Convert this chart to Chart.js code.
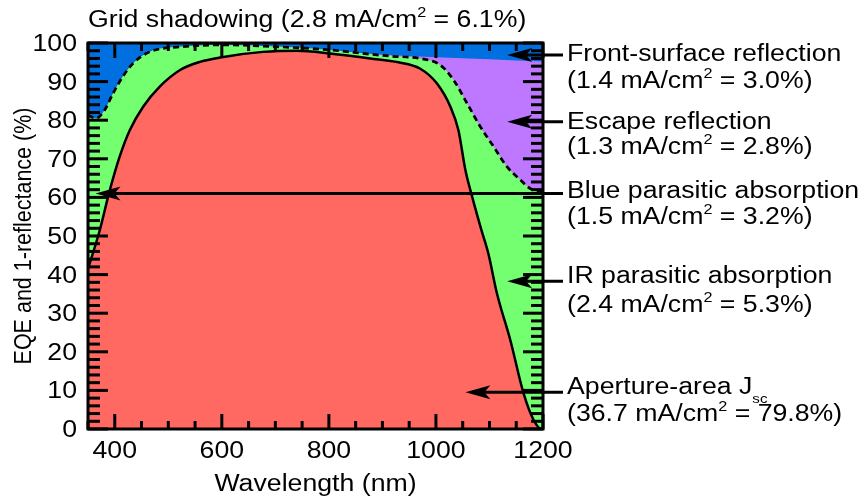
<!DOCTYPE html>
<html>
<head>
<meta charset="utf-8">
<script src="https://cdn.jsdelivr.net/npm/chart.js@4/dist/chart.umd.min.js"></script>
<style>
html, body { margin: 0; padding: 0; background: #fff; }
canvas { display: block; }
</style>
</head>
<body>
<canvas id="grafico" width="863" height="499"></canvas>
<script>
// EQE (linha cheia)
const eqeNm  = [350, 372, 390, 409, 428, 453, 484, 522, 559, 603, 677, 740, 802, 877, 930, 970, 1002, 1027, 1042, 1055, 1068, 1085, 1098, 1114, 1139, 1164, 1183, 1197, 1200];
const eqeVal = [41.5, 51.5, 61.5, 70.5, 77.4, 83.5, 88.7, 93.0, 95.1, 96.4, 97.7, 98.0, 97.3, 96.0, 95.0, 93.4, 89.5, 83.5, 77.4, 67.1, 60.0, 51.5, 45.4, 35.1, 23.0, 9.1, 2.2, 0, 0];

// 1 - reflectance (linha tracejada)
const refNm  = [350, 365, 381, 397, 415, 434, 465, 522, 603, 709, 802, 877, 915, 970, 1008, 1033, 1058, 1083, 1108, 1133, 1158, 1176, 1200];
const refVal = [81.3, 80.5, 82.6, 87.0, 91.3, 94.7, 97.7, 99.0, 99.5, 99.0, 98.2, 97.1, 96.6, 96.0, 94.3, 90.4, 84.4, 78.3, 73.1, 67.9, 64.5, 62.3, 61.3];

// 1 - reflexao frontal (limite azul / roxo)
const frontNm  = [350, 365, 381, 397, 415, 434, 465, 522, 603, 709, 802, 877, 1000, 1100, 1200];
const frontVal = [81.3, 80.5, 82.6, 87.0, 91.3, 94.7, 97.7, 99.0, 99.5, 99.0, 98.2, 97.2, 96.3, 95.8, 95.2];

const topoNm  = [350, 1200];
const topoVal = [100, 100];

const xTicks = [400, 600, 800, 1000, 1200];
const yTicks = [0, 10, 20, 30, 40, 50, 60, 70, 80, 90, 100];

// setas: altura (%) e ponta (nm)
const setaY  = [96.9, 79.6, 61.0, 38.3, 9.5];
const setaNm = [1133, 1133, 364, 1133, 1055];

// textos da direita: [linha, baseline]
const notas = [
    [[['Front-surface reflection', 0]], 61],
    [[['(1.4 mA/cm', 0], ['2', 1], [' = 3.0%)', 0]], 88],
    [[['Escape reflection', 0]], 129],
    [[['(1.3 mA/cm', 0], ['2', 1], [' = 2.8%)', 0]], 154],
    [[['Blue parasitic absorption', 0]], 198],
    [[['(1.5 mA/cm', 0], ['2', 1], [' = 3.2%)', 0]], 224],
    [[['IR parasitic absorption', 0]], 283],
    [[['(2.4 mA/cm', 0], ['2', 1], [' = 5.3%)', 0]], 312],
    [[['Aperture-area J', 0], ['sc', 2]], 394],
    [[['(36.7 mA/cm', 0], ['2', 1], [' = 79.8%)', 0]], 421]
];
const titulo = [['Grid shadowing (2.8 mA/cm', 0], ['2', 1], [' = 6.1%)', 0]];

function pares(xs, ys) {
    return xs.map((v, i) => ({ x: v, y: ys[i] }));
}

const SX = 1.16;
const FONTE = 'Liberation Sans, Arial, sans-serif';

function texto(ctx, partes, x, y, align) {
    let w = 0;
    const medidas = partes.map(p => {
        ctx.font = (p[1] == 0 ? 23 : (p[1] == 1 ? 14 : 13)) + 'px ' + FONTE;
        const m = ctx.measureText(p[0]).width;
        w += m;
        return m;
    });
    let x0 = x;
    if (align == 'right') x0 = x - w * SX;
    if (align == 'center') x0 = x - w * SX / 2;
    ctx.save();
    ctx.translate(x0, y);
    ctx.scale(SX, 1);
    ctx.fillStyle = '#000';
    ctx.textAlign = 'left';
    ctx.textBaseline = 'alphabetic';
    let cx = 0;
    partes.forEach((p, i) => {
        ctx.font = (p[1] == 0 ? 23 : (p[1] == 1 ? 14 : 13)) + 'px ' + FONTE;
        const dy = p[1] == 1 ? -10 : (p[1] == 2 ? 9 : 0);
        ctx.fillText(p[0], cx, dy);
        cx += medidas[i];
    });
    ctx.restore();
}

function linha(ctx, x1, y1, x2, y2) {
    ctx.beginPath();
    ctx.moveTo(x1, y1);
    ctx.lineTo(x2, y2);
    ctx.stroke();
}

const moldura = {
    id: 'moldura',
    afterDatasetsDraw(chart) {
        const ctx = chart.ctx;
        const a = chart.chartArea;
        const sx = chart.scales.x;
        const sy = chart.scales.y;
        ctx.save();
        ctx.strokeStyle = '#000';
        ctx.lineWidth = 3;
        ctx.lineCap = 'butt';
        for (let v = 350; v <= 1200; v += 50) {
            const px = sx.getPixelForValue(v);
            const len = xTicks.includes(v) ? 15 : 8;
            linha(ctx, px, a.bottom, px, a.bottom - len);
            linha(ctx, px, a.top, px, a.top + len);
        }
        for (let v = 0; v <= 100; v += 2) {
            const py = sy.getPixelForValue(v);
            const len = yTicks.includes(v) ? 20 : 12;
            linha(ctx, a.left, py, a.left + len, py);
            linha(ctx, a.right, py, a.right - len, py);
        }
        ctx.strokeRect(a.left, a.top, a.right - a.left, a.bottom - a.top);

        // setas
        ctx.fillStyle = '#000';
        setaY.forEach((yv, i) => {
            const py = sy.getPixelForValue(yv);
            const tx = sx.getPixelForValue(setaNm[i]);
            linha(ctx, 563, py, tx + 12, py);
            ctx.beginPath();
            ctx.moveTo(tx, py);
            ctx.lineTo(tx + 25, py - 7);
            ctx.lineTo(tx + 19, py);
            ctx.lineTo(tx + 25, py + 7);
            ctx.closePath();
            ctx.fill();
        });
        ctx.restore();

        // rotulos dos eixos
        xTicks.forEach(v => texto(ctx, [[String(v), 0]], sx.getPixelForValue(v), 458, 'center'));
        yTicks.forEach(v => texto(ctx, [[String(v), 0]], 77, sy.getPixelForValue(v) + 8, 'right'));
        texto(ctx, [['Wavelength (nm)', 0]], (a.left + a.right) / 2, 491, 'center');

        ctx.save();
        ctx.translate(31, (a.top + a.bottom) / 2);
        ctx.rotate(-Math.PI / 2);
        ctx.scale(1, 1.12);
        ctx.font = '21.5px ' + FONTE;
        ctx.fillStyle = '#000';
        ctx.textAlign = 'center';
        ctx.textBaseline = 'alphabetic';
        ctx.fillText('EQE and 1-reflectance (%)', 0, 0);
        ctx.restore();

        texto(ctx, titulo, 88, 27, 'left');
        notas.forEach(n => texto(ctx, n[0], 567, n[1], 'left'));
    }
};

new Chart(document.getElementById('grafico'), {
    type: 'line',
    data: {
        datasets: [
            {
                label: 'EQE',
                data: pares(eqeNm, eqeVal),
                borderColor: '#000',
                borderWidth: 2.5,
                backgroundColor: '#ff6961',
                fill: 'origin',
                pointRadius: 0,
                cubicInterpolationMode: 'monotone'
            },
            {
                label: '1-R',
                data: pares(refNm, refVal),
                borderColor: '#000',
                borderWidth: 2.7,
                borderDash: [6, 4],
                backgroundColor: '#73ff6f',
                fill: 'origin',
                pointRadius: 0,
                cubicInterpolationMode: 'monotone'
            },
            {
                label: 'front',
                data: pares(frontNm, frontVal),
                borderWidth: 0,
                borderColor: 'rgba(0,0,0,0)',
                backgroundColor: '#be78ff',
                fill: 'origin',
                pointRadius: 0,
                cubicInterpolationMode: 'monotone'
            },
            {
                label: 'topo',
                data: pares(topoNm, topoVal),
                borderWidth: 0,
                borderColor: 'rgba(0,0,0,0)',
                backgroundColor: '#006fe0',
                fill: 'origin',
                pointRadius: 0
            }
        ]
    },
    options: {
        responsive: false,
        devicePixelRatio: 1,
        animation: false,
        layout: { padding: { left: 88, top: 43, right: 320, bottom: 70 } },
        scales: {
            x: { type: 'linear', min: 350, max: 1200, display: false },
            y: { min: 0, max: 100, display: false }
        },
        plugins: {
            legend: { display: false },
            tooltip: { enabled: false }
        }
    },
    plugins: [moldura]
});
</script>
</body>
</html>
